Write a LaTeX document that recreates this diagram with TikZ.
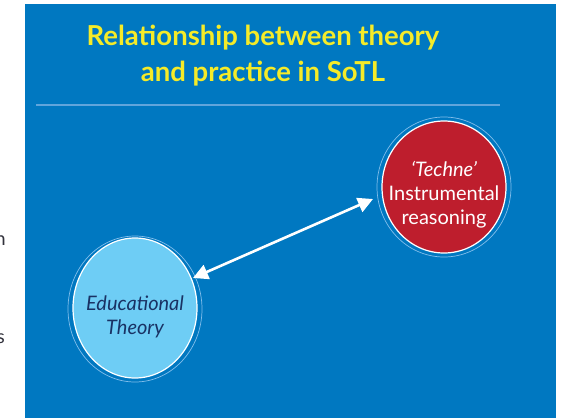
\documentclass[tikz,border=0pt]{standalone}
\usepackage{fontspec}
\setmainfont{Lato}
\usetikzlibrary{arrows.meta}
\definecolor{slideblue}{RGB}{0,120,193}
\definecolor{titleyellow}{RGB}{245,235,40}
\definecolor{rulecol}{RGB}{96,165,220}
\definecolor{ringcol}{RGB}{130,190,235}
\definecolor{techred}{RGB}{190,30,45}
\definecolor{edublue}{RGB}{110,205,245}
\definecolor{navy}{RGB}{25,50,100}
\definecolor{edgetext}{RGB}{50,50,60}
\tikzset{
  ring/.style={draw=ringcol, line width=0.7pt},
  bubble/.style={draw=white, line width=1.2pt},
  bubbletext/.style={align=center, font=\fontsize{20}{24}\selectfont},
  titletext/.style={text=titleyellow, align=center, font=\bfseries\fontsize{27.5}{36}\selectfont},
  link/.style={white, line width=2.6pt, {Triangle[length=15pt,width=15pt]}-{Triangle[length=15pt,width=15pt]}},
}
\begin{document}
\begin{tikzpicture}[x=1pt,y=-1pt]
\useasboundingbox (0,0) rectangle (564,418);
\fill[white] (0,0) rectangle (564,418);
\fill[slideblue] (25,4) rectangle (556,418);
% cut-off text at left edge
\node[anchor=base east, text=edgetext, font=\fontsize{19}{20}\selectfont, inner sep=0pt] (cutn) at (6,245) {n};
\node[anchor=base east, text=edgetext, font=\fontsize{19}{20}\selectfont, inner sep=0pt] (cuts) at (5,343) {s};
% title
\node[titletext] (title) at (263,56) {Relationship between theory\\and practice in SoTL};
\draw[rulecol, line width=2pt] (36,105) -- (500,105);
% rings
\draw[ring] (444,187) ellipse [x radius=67, y radius=70];
\draw[ring] (135,309) ellipse [x radius=67, y radius=73];
% circles
\fill[techred] (444,187) ellipse [x radius=62, y radius=66];
\draw[bubble] (444,187) ellipse [x radius=62, y radius=66];
\fill[edublue] (135,308) ellipse [x radius=62, y radius=70];
\draw[bubble] (135,308) ellipse [x radius=62, y radius=70];
\node[bubbletext, text=white] (techne) at (444,195) {\itshape ‘Techne’\\Instrumental\\reasoning};
\node[bubbletext, text=navy] (edu) at (135,317) {\itshape Educational\\\itshape Theory};
\coordinate (a1) at (193,278);
\coordinate (a2) at (373,199);
\draw[link] (a1) -- (a2);
\end{tikzpicture}
\end{document}
